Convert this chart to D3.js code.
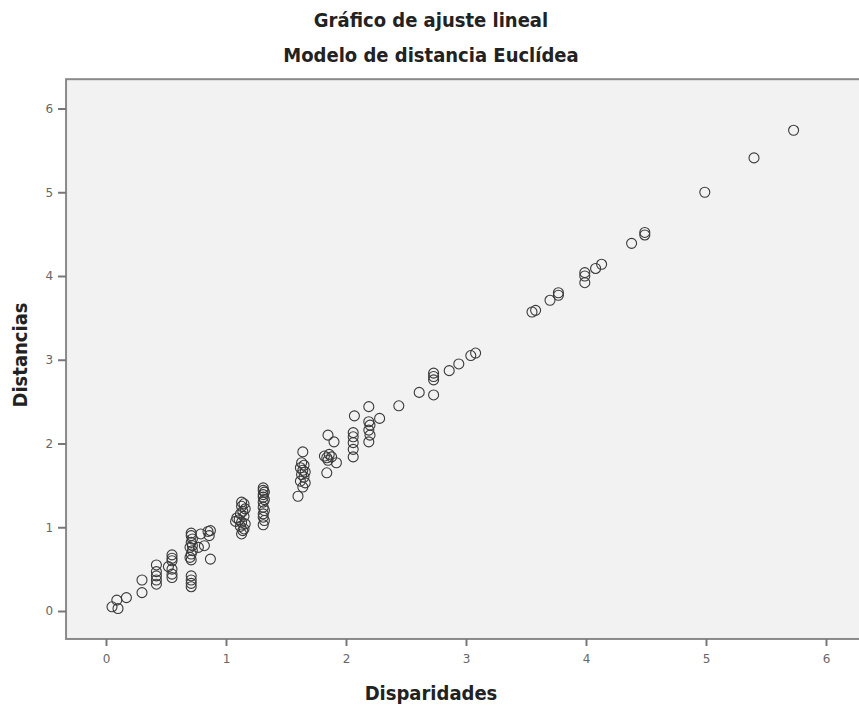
<!DOCTYPE html>
<html>
<head>
<meta charset="utf-8">
<script src="https://cdn.jsdelivr.net/npm/d3@7"></script>
<style>
  body { margin: 0; background: #fff; }
  svg { display: block; }
</style>
</head>
<body>
<div id="chart"></div>
<script>
const titleLines = ["Gráfico de ajuste lineal", "Modelo de distancia Euclídea"];
const xLabel = "Disparidades";
const yLabel = "Distancias";
const xTicks = [0, 1, 2, 3, 4, 5, 6];
const yTicks = [0, 1, 2, 3, 4, 5, 6];

// disparidades (x) and distancias (y)
const disparidades = [
  0.05, 0.10, 0.09, 0.17,
  0.30, 0.30,
  0.42, 0.42, 0.42, 0.42, 0.42,
  0.55, 0.55, 0.55, 0.52, 0.55, 0.55, 0.55,
  0.71, 0.71, 0.71, 0.71,
  0.71, 0.71, 0.72, 0.71, 0.72, 0.70, 0.72, 0.71, 0.70, 0.71,
  0.79, 0.85, 0.87, 0.86, 0.82, 0.77, 0.87,
  1.13, 1.15, 1.13, 1.16, 1.14, 1.12, 1.15, 1.09, 1.11, 1.08, 1.13, 1.16, 1.12, 1.15, 1.14, 1.13,
  1.31, 1.31, 1.32, 1.31, 1.31, 1.32, 1.31, 1.31, 1.32, 1.31, 1.31, 1.32, 1.31,
  1.64, 1.63, 1.65, 1.62, 1.64, 1.66, 1.63, 1.65, 1.62, 1.66, 1.64, 1.60,
  1.85, 1.90, 1.82, 1.84, 1.86, 1.88, 1.85, 1.92, 1.84,
  2.07, 2.06, 2.06, 2.06, 2.06, 2.06,
  2.19, 2.19, 2.20, 2.19, 2.20, 2.19, 2.28,
  2.44, 2.61, 2.73, 2.73, 2.73, 2.73, 2.86, 2.94, 3.04, 3.08,
  3.55, 3.58, 3.70, 3.77, 3.77,
  3.99, 3.99, 3.99, 4.08, 4.13, 4.38, 4.49, 4.49,
  4.99, 5.40, 5.73
];
const distancias = [
  0.05, 0.03, 0.13, 0.16,
  0.37, 0.22,
  0.55, 0.47, 0.42, 0.37, 0.32,
  0.67, 0.63, 0.60, 0.53, 0.50, 0.44, 0.40,
  0.42, 0.37, 0.33, 0.29,
  0.93, 0.90, 0.86, 0.82, 0.78, 0.76, 0.72, 0.68, 0.64, 0.61,
  0.92, 0.95, 0.96, 0.90, 0.78, 0.76, 0.62,
  1.30, 1.28, 1.25, 1.22, 1.19, 1.16, 1.13, 1.11, 1.09, 1.07, 1.06, 1.04, 1.01, 0.98, 0.96, 0.92,
  1.47, 1.44, 1.42, 1.39, 1.36, 1.33, 1.30, 1.24, 1.20, 1.16, 1.12, 1.08, 1.03,
  1.90, 1.77, 1.74, 1.71, 1.68, 1.66, 1.63, 1.60, 1.55, 1.53, 1.48, 1.37,
  2.10, 2.02, 1.85, 1.83, 1.87, 1.84, 1.80, 1.77, 1.65,
  2.33, 2.13, 2.08, 2.01, 1.93, 1.84,
  2.44, 2.26, 2.22, 2.16, 2.10, 2.02, 2.30,
  2.45, 2.61, 2.84, 2.80, 2.76, 2.58, 2.87, 2.95, 3.05, 3.08,
  3.57, 3.59, 3.71, 3.80, 3.77,
  4.04, 4.00, 3.92, 4.09, 4.14, 4.39, 4.52, 4.49,
  5.00, 5.41, 5.74
];

const width = 859;
const height = 709;
const titleFont = "'Liberation Sans Narrow', 'DejaVu Sans Condensed', sans-serif";

const svg = d3.select("#chart")
  .append("svg")
  .attr("width", width)
  .attr("height", height);

const x = d3.scaleLinear().domain([0, 6]).range([106, 826]);
const y = d3.scaleLinear().domain([0, 6]).range([611, 108.5]);

const frameLeft = x(-0.333);
const frameTop = y(6.35);
const frameBottom = y(-0.334);

// plot background
svg.append("rect")
  .attr("x", frameLeft)
  .attr("y", frameTop)
  .attr("width", width + 20 - frameLeft)
  .attr("height", frameBottom - frameTop)
  .attr("fill", "#f2f2f2")
  .attr("stroke", "#8a8a8a")
  .attr("stroke-width", 2);

// titles
svg.selectAll(".title")
  .data(titleLines)
  .enter()
  .append("text")
  .attr("class", "title")
  .attr("x", 431)
  .attr("y", (d, i) => 27 + i * 35)
  .attr("text-anchor", "middle")
  .style("font-family", titleFont)
  .style("font-weight", "bold")
  .style("font-size", "20px")
  .style("fill", "#222")
  .text(d => d);

// axes
const xaxis = d3.axisBottom(x).tickValues(xTicks).tickFormat(d3.format("d")).tickSize(7).tickPadding(9);
const yaxis = d3.axisLeft(y).tickValues(yTicks).tickFormat(d3.format("d")).tickSize(8).tickPadding(5);

const gx = svg.append("g")
  .attr("transform", "translate(0," + frameBottom + ")")
  .call(xaxis);
gx.select(".domain").remove();

const gy = svg.append("g")
  .attr("transform", "translate(" + frameLeft + ",0)")
  .call(yaxis);
gy.select(".domain").remove();

svg.selectAll(".tick line")
  .attr("stroke", "#777")
  .attr("stroke-width", 2);
svg.selectAll(".tick text")
  .style("font-family", "'DejaVu Sans', sans-serif")
  .style("font-size", "12px")
  .style("fill", "#666");

// axis titles
svg.append("text")
  .attr("x", 431)
  .attr("y", 700)
  .attr("text-anchor", "middle")
  .style("font-family", titleFont)
  .style("font-weight", "bold")
  .style("font-size", "20px")
  .style("fill", "#222")
  .text(xLabel);

svg.append("text")
  .attr("transform", "translate(27,355) rotate(-90)")
  .attr("text-anchor", "middle")
  .style("font-family", titleFont)
  .style("font-weight", "bold")
  .style("font-size", "20px")
  .style("fill", "#222")
  .text(yLabel);

// points
svg.append("g")
  .selectAll("circle")
  .data(d3.range(disparidades.length))
  .enter()
  .append("circle")
  .attr("cx", i => x(disparidades[i]))
  .attr("cy", i => y(distancias[i]))
  .attr("r", 5)
  .attr("fill", "none")
  .attr("stroke", "#3a3a3a")
  .attr("stroke-width", 1.1);
</script>
</body>
</html>
